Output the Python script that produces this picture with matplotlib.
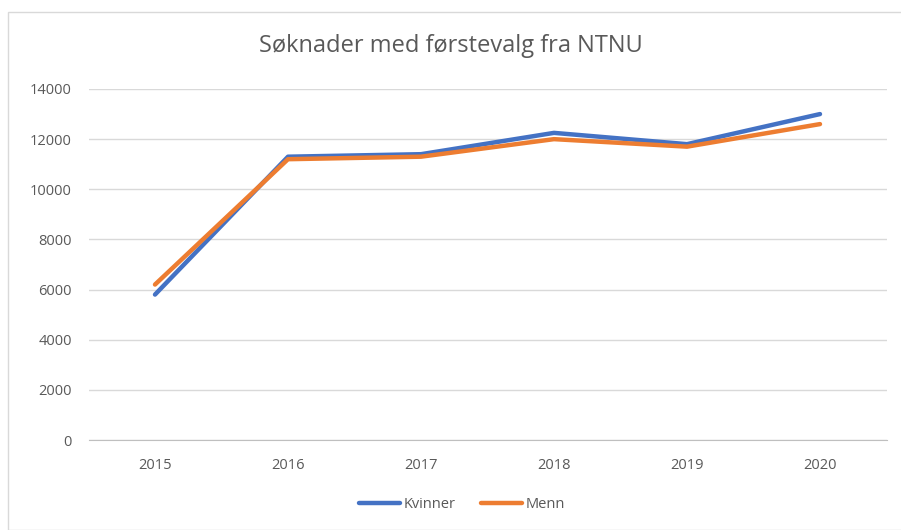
import matplotlib.pyplot as plt
from matplotlib.patches import Rectangle

years = ["2015", "2016", "2017", "2018", "2019", "2020"]
kvinner = [5800, 11300, 11400, 12250, 11800, 13000]
menn = [6200, 11200, 11300, 12000, 11700, 12600]
yticks = [0, 2000, 4000, 6000, 8000, 10000, 12000, 14000]

plt.rcParams['font.family'] = ['Open Sans', 'DejaVu Sans']

fig = plt.figure(figsize=(9.01, 5.30), dpi=100)
# chart border
fig.patches.append(Rectangle((8 / 901, 0), 1, 1 - 12 / 530, transform=fig.transFigure,
                             fill=False, edgecolor="#d9d9d9", linewidth=1))

ax = fig.add_axes([88.5 / 901, 90 / 530, 798 / 901, 351 / 530])
x = list(range(len(years)))
ax.plot(x, kvinner, color="#4472C4", linewidth=3.2, label="Kvinner", solid_capstyle="round")
ax.plot(x, menn, color="#ED7D31", linewidth=3.2, label="Menn", solid_capstyle="round")

ax.set_xlim(-0.5, len(years) - 0.5)
ax.set_ylim(0, 14000)
ax.set_yticks(yticks)
ax.set_yticklabels([str(v) for v in yticks])
ax.set_xticks(x)
ax.set_xticklabels(years)
ax.grid(axis="y", color="#d9d9d9", linewidth=1)
ax.set_axisbelow(True)
for s in ["top", "right", "left"]:
    ax.spines[s].set_visible(False)
ax.spines["bottom"].set_color("#bfbfbf")
ax.tick_params(axis="both", length=0, colors="#595959", labelsize=10.5)
ax.tick_params(axis="y", pad=12)
ax.tick_params(axis="x", pad=13)

fig.text(0.5, 1 - 46 / 530, "Søknader med førstevalg fra NTNU", ha="center", va="center",
         fontsize=17, color="#595959")

fig.legend(loc="center", bbox_to_anchor=(462 / 901, 1 - 505 / 530), ncol=2, frameon=False,
           fontsize=10.5, labelcolor="#595959", handlelength=2.8, columnspacing=1.8, handletextpad=0.2)

fig.savefig("out.png", dpi=100)
